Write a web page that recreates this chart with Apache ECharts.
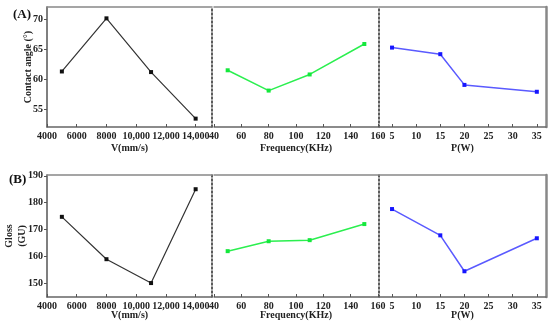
<!DOCTYPE html>
<html>
<head>
<meta charset="utf-8">
<script src="https://cdn.jsdelivr.net/npm/echarts@6/dist/echarts.min.js"></script>
<style>html,body{margin:0;padding:0;background:#fff}#c{width:550px;height:325px}</style>
</head>
<body>
<div id="c"></div>
<script>
// ---- data ----
const vVals = [5000, 8000, 11000, 14000];
const freqVals = [50, 80, 110, 150];
const powerVals = [5, 15, 20, 35];
const contactV = [61.3, 70.2, 61.2, 53.4];
const contactF = [61.5, 58.1, 60.8, 65.9];
const contactP = [65.3, 64.2, 59.05, 57.9];
const glossV = [174.7, 158.9, 150.0, 185.0];
const glossF = [161.9, 165.6, 166.0, 172.0];
const glossP = [177.6, 167.8, 154.4, 166.7];
const vTicks = [4000, 6000, 8000, 10000, 12000, 14000];
const fTicks = [40, 60, 80, 100, 120, 140, 160];
const pTicks = [5, 10, 15, 20, 25, 30, 35];
const caTicks = [55, 60, 65, 70];
const glTicks = [150, 160, 170, 180, 190];

const FONT = 'Liberation Serif';
const pair = (xs, ys) => xs.map((x, i) => [x, ys[i]]);
const fmtV = v => v >= 10000 ? (v / 1000) + ',000' : String(v);

const rows = [
  {top: 7, bottom: 198, ymin: 52, ymax: 72.1, ticks: caTicks, name: 'Contact angle (°)', gap: 12, data: [contactV, contactF, contactP]},
  {top: 175, bottom: 28, ymin: 144.8, ymax: 190.3, ticks: glTicks, name: 'Gloss\n(GU)', gap: 18, data: [glossV, glossF, glossP]}
];
const cols = [
  {left: 47, width: 165, min: 4000, max: 15100, ticks: vTicks, name: 'V(mm/s)', xs: vVals, color: '#333', mcolor: '#111', fmt: fmtV},
  {left: 214, width: 164, min: 40, max: 160, ticks: fTicks, name: 'Frequency(KHz)', xs: freqVals, color: '#2bef4f', mcolor: '#14e83c', fmt: String},
  {left: 379, width: 167, min: 2.3, max: 36.9, ticks: pTicks, name: 'P(W)', xs: powerVals, color: '#5a5aff', mcolor: '#1616ff', fmt: String}
];

const grid = [], xAxis = [], yAxis = [], series = [];
const dashed = {show: true, lineStyle: {color: '#333', width: 1.6, type: [2, 2]}};
const txt = {fontFamily: FONT, fontWeight: 'bold', fontSize: 10, color: '#222'};

rows.forEach((r, ri) => {
  cols.forEach((c, ci) => {
    const g = grid.length;
    grid.push({left: c.left, width: c.width, top: r.top, bottom: r.bottom, containLabel: false});
    xAxis.push({
      type: 'value', gridIndex: g, min: c.min, max: c.max, position: 'bottom',
      name: c.name, nameLocation: 'middle', nameGap: ri === 0 ? 16 : 13, nameMoveOverlap: false,
      nameTextStyle: {fontFamily: FONT, fontWeight: 'bold', fontSize: 10, color: '#222'},
      axisLine: {show: true, onZero: false, lineStyle: {color: '#666', width: 1.5}},
      axisTick: {show: true, inside: true, length: 3, customValues: c.ticks, lineStyle: {color: '#555'}},
      axisLabel: Object.assign({customValues: c.ticks, margin: 4, formatter: c.fmt, hideOverlap: false, showMinLabel: true, showMaxLabel: true}, txt),
      splitLine: {show: false}
    });
    const xb = xAxis.length - 1;
    xAxis.push({
      type: 'value', gridIndex: g, min: c.min, max: c.max, position: 'top',
      axisLine: {show: true, onZero: false, lineStyle: {color: '#888', width: 1.5}},
      axisTick: {show: false}, axisLabel: {show: false}, splitLine: {show: false}
    });
    yAxis.push({
      type: 'value', gridIndex: g, min: r.ymin, max: r.ymax, position: 'left',
      show: ci === 0,
      name: ci === 0 ? r.name : '', nameLocation: 'middle', nameGap: r.gap, nameRotate: 90, nameMoveOverlap: false,
      nameTextStyle: {fontFamily: FONT, fontWeight: 'bold', fontSize: 10, color: '#222', lineHeight: 13},
      axisLine: ci === 0 ? {show: true, onZero: false, lineStyle: {color: '#555', width: 1.5}} : {show: false},
      axisTick: {show: true, length: 3, customValues: r.ticks, lineStyle: {color: '#555'}},
      axisLabel: Object.assign({customValues: r.ticks, margin: 4}, txt),
      splitLine: {show: false}
    });
    const yb = yAxis.length - 1;
    if (ci === 0) {
      yAxis.push({type: 'value', gridIndex: g, min: r.ymin, max: r.ymax, position: 'right',
        axisLine: Object.assign({onZero: false}, dashed), axisTick: {show: false}, axisLabel: {show: false}, splitLine: {show: false}});
    }
    if (ci === 2) {
      yAxis.push({type: 'value', gridIndex: g, min: r.ymin, max: r.ymax, position: 'left',
        axisLine: Object.assign({onZero: false}, dashed), axisTick: {show: false}, axisLabel: {show: false}, splitLine: {show: false}});
      yAxis.push({type: 'value', gridIndex: g, min: r.ymin, max: r.ymax, position: 'right',
        axisLine: {show: true, onZero: false, lineStyle: {color: '#888', width: 2.5}}, axisTick: {show: false}, axisLabel: {show: false}, splitLine: {show: false}});
    }
    series.push({
      type: 'line', xAxisIndex: xb, yAxisIndex: yb, data: pair(c.xs, r.data[ci]),
      symbol: 'rect', symbolSize: 4, showSymbol: true,
      lineStyle: {color: c.color, width: ci === 0 ? 1.2 : 1.5},
      itemStyle: {color: c.mcolor}, animation: false, silent: true
    });
  });
});

const chart = echarts.init(document.getElementById('c'), null, {renderer: 'canvas'});
chart.setOption({
  backgroundColor: '#fff',
  animation: false,
  title: [
    {text: '(A)', left: 8, top: 3, textStyle: {fontFamily: FONT, fontWeight: 'bold', fontSize: 13, color: '#111'}},
    {text: '(B)', left: 4, top: 168, textStyle: {fontFamily: FONT, fontWeight: 'bold', fontSize: 13, color: '#111'}}
  ],
  grid, xAxis, yAxis, series
});
</script>
</body>
</html>
